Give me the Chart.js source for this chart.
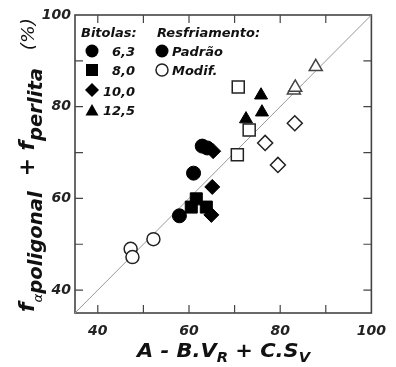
<!DOCTYPE html>
<html>
<head>
<meta charset="utf-8">
<script src="https://cdn.jsdelivr.net/npm/chart.js"></script>
<style>
  body { margin: 0; background: #fff; }
  canvas { display: block; }
</style>
</head>
<body>
<canvas id="myChart" width="396" height="367"></canvas>
<script>
// axis range and labelled ticks (same on both axes)
var axisMin = 35, axisMax = 100;
var tickLabels = [40, 60, 80, 100];
var refLine = [35, 100];

// Resfriamento padrao (filled markers), one pair per bitola
var x63p = [57.9, 61.0, 62.9, 64.0];
var y63p = [56.2, 65.5, 71.4, 71.0];
var x80p = [60.5, 61.6, 63.8];
var y80p = [58.1, 59.9, 58.1];
var x100p = [64.9, 65.1, 65.3];
var y100p = [56.4, 62.5, 70.3];
var x125p = [75.8, 76.0, 72.5];
var y125p = [82.5, 78.8, 77.3];

// Resfriamento modificado (open markers)
var x63m = [47.2, 47.6, 52.2];
var y63m = [49.0, 47.2, 51.1];
var x80m = [70.8, 73.2, 70.6];
var y80m = [84.3, 74.9, 69.5];
var x100m = [83.2, 76.7, 79.5];
var y100m = [76.4, 72.1, 67.3];
var x125m = [87.8, 83.0, 83.3];
var y125m = [88.7, 83.6, 84.2];

function pts(xs, ys) {
  return xs.map(function (x, i) { return { x: x, y: ys[i] }; });
}

var FONT = 'DejaVu Sans';
var frameColor = '#444';

function filled(data, style, r) {
  return { data: data, pointStyle: style, pointRadius: r, pointHoverRadius: r,
    backgroundColor: '#000', borderColor: '#000', borderWidth: 1 };
}
function open(data, style, r, col) {
  return { data: data, pointStyle: style, pointRadius: r, pointHoverRadius: r,
    backgroundColor: '#fff', borderColor: col || '#222', borderWidth: 1.5 };
}

// frame with inward ticks every 10
var framePlugin = {
  id: 'frame',
  beforeDatasetsDraw: function (chart) {
    var ctx = chart.ctx, a = chart.chartArea;
    var xs = chart.scales.x, ys = chart.scales.y;
    ctx.save();
    ctx.strokeStyle = frameColor;
    ctx.lineWidth = 1.6;
    ctx.strokeRect(a.left, a.top, a.right - a.left, a.bottom - a.top);
    ctx.lineWidth = 1.2;
    ctx.beginPath();
    for (var v = 40; v < axisMax; v += 10) {
      var px = xs.getPixelForValue(v);
      ctx.moveTo(px, a.bottom); ctx.lineTo(px, a.bottom - 8);
      ctx.moveTo(px, a.top); ctx.lineTo(px, a.top + 8);
      var py = ys.getPixelForValue(v);
      ctx.moveTo(a.left, py); ctx.lineTo(a.left + 8, py);
      ctx.moveTo(a.right, py); ctx.lineTo(a.right - 8, py);
    }
    ctx.stroke();
    ctx.restore();
  }
};

function drawRuns(ctx, runs, targetLen) {
  var total = 0;
  runs.forEach(function (r) { ctx.font = r.font; r.w = ctx.measureText(r.t).width; total += r.w; });
  var k = targetLen / total;
  ctx.scale(k, 1);
  var x = 0;
  runs.forEach(function (r) {
    ctx.font = r.font;
    ctx.fillText(r.t, x, r.dy || 0);
    x += r.w;
  });
}

// legend + axis titles
var textPlugin = {
  id: 'texts',
  afterDraw: function (chart) {
    var ctx = chart.ctx;
    ctx.save();
    ctx.fillStyle = '#111';
    ctx.textBaseline = 'alphabetic';

    // x title
    ctx.save();
    ctx.translate(137, 357);
    var bi = 'italic bold 20px "' + FONT + '"';
    var sub = 'italic bold 14px "' + FONT + '"';
    drawRuns(ctx, [
      { t: 'A - B.V', font: bi },
      { t: 'R', font: sub, dy: 5 },
      { t: ' + C.S', font: bi },
      { t: 'V', font: sub, dy: 5 }
    ], 173);
    ctx.restore();

    // y title
    ctx.save();
    ctx.translate(34, 312);
    ctx.rotate(-Math.PI / 2);
    var mainF = 'italic bold 21px "' + FONT + '"';
    var subF = 'italic bold 19px "' + FONT + '"';
    drawRuns(ctx, [
      { t: 'f', font: mainF },
      { t: '\u03b1', font: 'italic 13px "' + FONT + '"', dy: 8 },
      { t: 'poligonal', font: subF, dy: 8 },
      { t: '  + ', font: mainF },
      { t: 'f', font: mainF },
      { t: 'perlita', font: subF, dy: 8 },
      { t: '   (%)', font: 'italic 18px "' + FONT + '"' }
    ], 294);
    ctx.restore();

    // legend
    var lf = 'italic bold 13px "' + FONT + '"';
    ctx.font = lf;
    ctx.textAlign = 'left';
    ctx.fillText('Bitolas:', 81, 37);
    ctx.fillText('Resfriamento:', 157, 37);
    ctx.fillText('Padr\u00e3o', 172, 56);
    ctx.fillText('Modif.', 172, 75);
    ctx.textAlign = 'right';
    ctx.fillText('6,3', 135, 56);
    ctx.fillText('8,0', 135, 75);
    ctx.fillText('10,0', 135, 96);
    ctx.fillText('12,5', 135, 115);

    ctx.fillStyle = '#000';
    ctx.beginPath(); ctx.arc(92, 51, 6.5, 0, Math.PI * 2); ctx.fill();
    ctx.fillRect(86, 64, 12, 12);
    ctx.beginPath();
    ctx.moveTo(92, 83); ctx.lineTo(99, 90); ctx.lineTo(92, 97); ctx.lineTo(85, 90);
    ctx.closePath(); ctx.fill();
    ctx.beginPath();
    ctx.moveTo(92, 104); ctx.lineTo(98.5, 115.5); ctx.lineTo(85.5, 115.5);
    ctx.closePath(); ctx.fill();
    ctx.beginPath(); ctx.arc(162, 51, 6.5, 0, Math.PI * 2); ctx.fill();
    ctx.strokeStyle = '#222';
    ctx.lineWidth = 1.5;
    ctx.beginPath(); ctx.arc(162, 70, 6, 0, Math.PI * 2); ctx.stroke();
    ctx.restore();
  }
};

var tickFont = { family: FONT, size: 14, weight: 'bold', style: 'italic' };

function labelTicks(s) {
  s.ticks = tickLabels.map(function (v) { return { value: v }; });
}

var myChart = new Chart(document.getElementById('myChart'), {
  type: 'scatter',
  data: {
    datasets: [
      filled(pts(x63p, y63p), 'circle', 7),
      filled(pts(x80p, y80p), 'rect', 8.5),
      filled(pts(x100p, y100p), 'rectRot', 7.5),
      filled(pts(x125p, y125p), 'triangle', 7.5),
      open(pts(x63m, y63m), 'circle', 6.5),
      open(pts(x80m, y80m), 'rect', 8.5),
      open(pts(x100m, y100m), 'rectRot', 7.5),
      open(pts(x125m, y125m), 'triangle', 7.5, '#444'),
      {
        type: 'line',
        data: pts(refLine, refLine),
        borderColor: '#999',
        borderWidth: 1,
        pointRadius: 0,
        showLine: true,
        order: 10
      }
    ]
  },
  options: {
    responsive: false,
    animation: false,
    layout: { padding: { left: 0, top: 15, right: 23, bottom: 0 } },
    plugins: { legend: { display: false }, tooltip: { enabled: false } },
    scales: {
      x: {
        type: 'linear', min: axisMin, max: axisMax,
        grid: { display: false, drawTicks: false },
        border: { display: false },
        ticks: { autoSkip: false, maxRotation: 0, padding: 10, color: '#222', font: tickFont },
        afterBuildTicks: labelTicks,
        afterFit: function (s) { s.height = 54; }
      },
      y: {
        type: 'linear', min: axisMin, max: axisMax,
        grid: { display: false, drawTicks: false },
        border: { display: false },
        ticks: { autoSkip: false, padding: 4, color: '#222', font: tickFont },
        afterBuildTicks: labelTicks,
        afterFit: function (s) { s.width = 75; }
      }
    }
  },
  plugins: [framePlugin, textPlugin]
});
</script>
</body>
</html>
